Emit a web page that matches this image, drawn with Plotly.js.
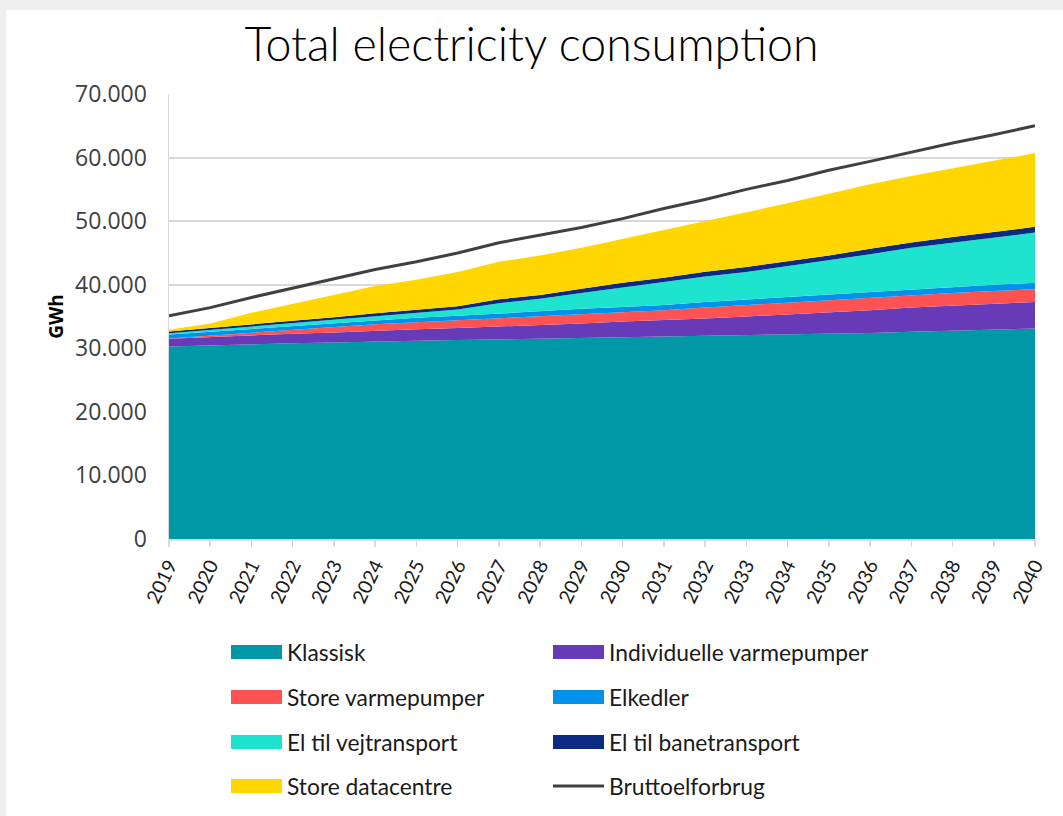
<!DOCTYPE html>
<html>
<head>
<meta charset="utf-8">
<script src="https://cdn.plot.ly/plotly-3.0.1.min.js"></script>
<style>html,body{margin:0;padding:0;background:#eeeeee;}#chart{width:1063px;height:816px;}</style>
</head>
<body>
<div id="chart"></div>
<script>
const years = [2019,2020,2021,2022,2023,2024,2025,2026,2027,2028,2029,2030,2031,2032,2033,2034,2035,2036,2037,2038,2039,2040];

const klassisk = [30300,30500,30600,30800,30900,31100,31200,31300,31400,31500,31600,31700,31800,31900,32000,32100,32200,32400,32600,32800,32900,33100];
const individuelleVarmepumper = [1200,1300,1400,1500,1600,1700,1800,1900,2000,2100,2300,2500,2600,2800,3000,3200,3400,3600,3800,3900,4100,4200];
const storeVarmepumper = [50,200,400,600,800,1000,1100,1200,1300,1400,1500,1500,1600,1700,1800,1800,1900,1900,1900,2000,2000,2000];
const elkedler = [600,600,600,600,600,600,700,700,800,800,800,800,800,900,900,900,900,900,1000,1000,1000,1000];
const elVejtransport = [200,300,400,500,600,700,800,1000,1600,2000,2500,3100,3600,4000,4300,4900,5400,6000,6500,6900,7400,7900];
const elBanetransport = [300,300,300,350,400,400,450,500,600,600,650,700,700,750,800,800,800,850,850,900,900,900];
const storeDatacentre = [250,700,1900,2650,3500,4300,4750,5400,5900,6200,6450,6900,7500,7950,8500,9100,9700,10150,10450,10800,11200,11600];
const bruttoelforbrug = [35100,36400,38000,39500,41000,42400,43600,45000,46600,47800,49000,50400,52000,53400,55000,56400,58000,59400,60900,62300,63600,65000];

const seriesNames = ["Klassisk","Individuelle varmepumper","Store varmepumper","Elkedler","El til vejtransport","El til banetransport","Store datacentre"];
const seriesValues = [klassisk,individuelleVarmepumper,storeVarmepumper,elkedler,elVejtransport,elBanetransport,storeDatacentre];
const seriesColors = ["#0097A7","#673AB7","#FF5252","#0091EA","#1EE3CF","#0D2A82","#FFD600"];
const lineName = "Bruttoelforbrug";
const lineColor = "#404040";

const traces = seriesNames.map((n,i)=>({
  type:'scatter', mode:'lines', name:n, x:years, y:seriesValues[i],
  stackgroup:'one', line:{width:0, color:seriesColors[i]}, fillcolor:seriesColors[i],
  showlegend:false, hoverinfo:'skip'
}));
traces.push({type:'scatter', mode:'lines', name:lineName, x:years, y:bruttoelforbrug,
  line:{width:3, color:lineColor}, showlegend:false, hoverinfo:'skip'});

const W=1063,H=816,L=169,R=28,T=94,B=277;
const pw=W-L-R, ph=H-T-B;
const px2x = px => (px-L)/pw;
const py2y = py => (H-B-py)/ph;

const shapes = [{type:'rect', xref:'paper', yref:'paper', x0:px2x(6), x1:px2x(1063), y0:py2y(816), y1:py2y(10),
  fillcolor:'#ffffff', line:{width:0}, layer:'below'}];
const annotations = [];
const legendNames = seriesNames.concat([lineName]);
const legendColors = seriesColors.concat([lineColor]);
const colX = [231,553], rowY = [652,697,742,786];
legendNames.forEach((n,i)=>{
  const c=i%2, r=Math.floor(i/2);
  const x0=colX[c], x1=colX[c]+51, yc=rowY[r];
  if(i===legendNames.length-1){
    shapes.push({type:'line', xref:'paper', yref:'paper', x0:px2x(x0), x1:px2x(x1), y0:py2y(yc), y1:py2y(yc),
      line:{color:legendColors[i], width:3}});
  } else {
    shapes.push({type:'rect', xref:'paper', yref:'paper', x0:px2x(x0), x1:px2x(x1), y0:py2y(yc+7), y1:py2y(yc-7),
      fillcolor:legendColors[i], line:{width:0}});
  }
  annotations.push({xref:'paper', yref:'paper', x:px2x(x1+3), y:py2y(yc), xanchor:'left', yanchor:'middle',
    text:n, showarrow:false, font:{family:'Lato', size:22.8, color:'#1a1a1a'}});
});

const layout = {
  width:W, height:H,
  margin:{l:L, r:R, t:T, b:B, pad:0},
  paper_bgcolor:'#eeeeee', plot_bgcolor:'rgba(0,0,0,0)',
  separators:',.',
  showlegend:false,
  title:{text:'Total electricity consumption', xref:'container', yref:'container', x:0.5, y:1-45/816,
    xanchor:'center', yanchor:'middle', font:{family:'Lato', size:46.5, weight:300, color:'#000000'}},
  xaxis:{range:[2019,2040], tickvals:years, ticktext:years.map(String), tickangle:-64,
    tickfont:{family:'Lato', size:19.5, color:'#1a1a1a'}, showgrid:false, zeroline:false,
    showline:true, linecolor:'#d9d9d9', linewidth:1.5, ticks:'outside', ticklen:6, tickcolor:'#d9d9d9', tickwidth:1.5},
  yaxis:{range:[0,70000], dtick:10000, tickformat:',d', tickfont:{family:'Open Sans', size:23, color:'#404040'},
    ticklabelstandoff:16,
    showgrid:true, gridcolor:'#d9d9d9', gridwidth:2, zeroline:false, showline:true, linecolor:'#d9d9d9', linewidth:1.5,
    ticks:'', title:{text:'<b>GWh</b>', font:{family:'Open Sans', size:19, color:'#000000'}, standoff:6}},
  shapes:shapes, annotations:annotations
};

Plotly.newPlot('chart', traces, layout, {staticPlot:true, displayModeBar:false});
</script>
</body>
</html>
